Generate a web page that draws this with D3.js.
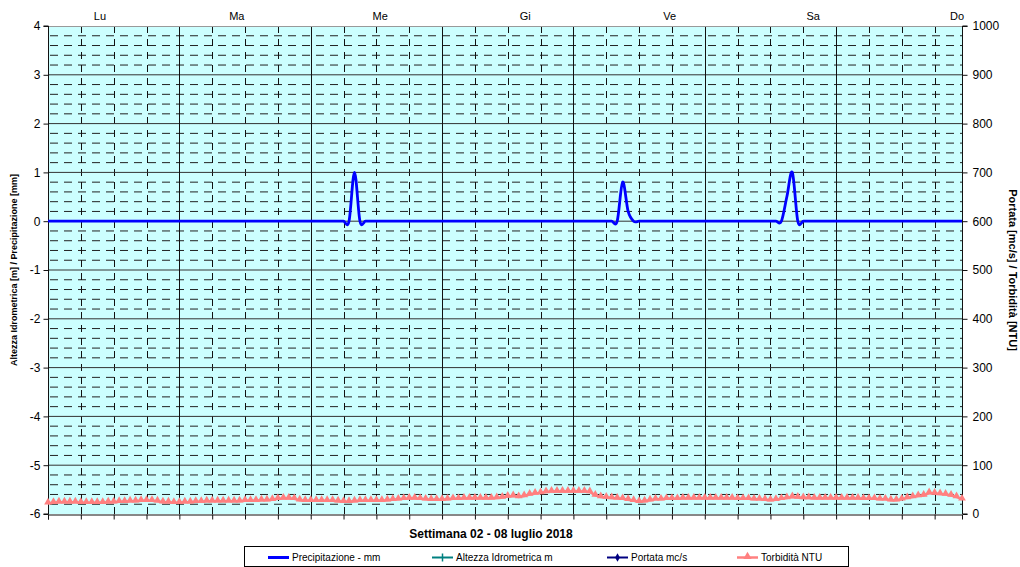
<!DOCTYPE html>
<html><head><meta charset="utf-8">
<script src="https://cdn.jsdelivr.net/npm/d3@7"></script>
<style>body{margin:0;background:#fff}svg{display:block;font-family:"Liberation Sans",Arial,sans-serif}</style>
</head><body><svg id="c" width="1020" height="567"></svg>
<script>
// ---- data ----
const dayLabels = ["Lu","Ma","Me","Gi","Ve","Sa","Do"];
const dayLabelHours = [9.5, 34.5, 60.7, 87.2, 113.6, 139.8, 166.1];
const leftTicks = [4,3,2,1,0,-1,-2,-3,-4,-5,-6];
const rightTicks = [1000,900,800,700,600,500,400,300,200,100,0];
const xTitle = "Settimana 02 - 08 luglio 2018";
const leftTitle = "Altezza Idrometrica [m] / Precipitazione [mm]";
const rightTitle = "Portata [mc/s] / Torbidità [NTU]";
// hourly precipitation (mm), Mon 00:00 .. Sun 23:00
const precipitation = [
 0,0,0,0,0,0,0,0,0,0,0,0,0,0,0,0,0,0,0,0,0,0,0,0,
 0,0,0,0,0,0,0,0,0,0,0,0,0,0,0,0,0,0,0,0,0,0,0,0,
 0,0,0,0,0,0,0,0,1.0,0,0,0,0,0,0,0,0,0,0,0,0,0,0,0,
 0,0,0,0,0,0,0,0,0,0,0,0,0,0,0,0,0,0,0,0,0,0,0,0,
 0,0,0,0,0,0,0,0,0,0.8,0.2,0,0,0,0,0,0,0,0,0,0,0,0,0,
 0,0,0,0,0,0,0,0,0,0,0,0,0,0,0,0.5,1.0,0,0,0,0,0,0,0,
 0,0,0,0,0,0,0,0,0,0,0,0,0,0,0,0,0,0,0,0,0,0,0,0
];
// hourly turbidity (NTU)
const turbidity = [
 22,23,24,24,24,24,23,23,23,23,23,24,
 24,25,25,26,26,27,27,27,26,24,24,23,
 23,24,24,25,25,26,26,26,26,26,26,26,
 27,27,27,28,28,29,31,32,32,31,28,27,
 27,27,27,27,27,26,25,25,26,27,27,27,
 27,27,28,29,30,31,32,32,31,30,29,29,
 29,30,31,31,32,32,32,32,32,32,33,34,
 36,37,35,37,40,42,43,45,46,46,46,46,
 46,46,46,45,38,35,34,33,32,31,29,27,
 25,26,28,30,30,31,31,31,32,32,32,32,
 32,32,32,32,32,32,31,31,31,30,30,29,
 28,29,31,33,35,34,33,33,32,32,32,32,
 32,32,32,32,32,31,31,31,30,30,28,28,
 30,33,35,37,38,43,42,41,40,38,35,30
];
const legendNames = ["Precipitazione - mm","Altezza Idrometrica m","Portata mc/s","Torbidità NTU"];
const legendColors = ["#0000FF","#008080","#000080","#FF8080"];

// ---- drawing ----
const svg = d3.select("#c");
const L = 48, R = 962, T = 26, B = 514;
const x = d3.scaleLinear().domain([0, 167]).range([L, R]);
const yL = d3.scaleLinear().domain([-6, 4]).range([B, T]);
const yR = d3.scaleLinear().domain([0, 1000]).range([B, T]);

svg.append("rect").attr("x", L).attr("y", T).attr("width", R - L).attr("height", B - T).attr("fill", "#CCFFFF");

const g = svg.append("g");
// minor horizontal dashed
const minorY = d3.range(-30, 20).map(i => i / 5).filter(v => Math.abs(v - Math.round(v)) > 1e-6);
g.selectAll(".mh").data(minorY).join("line")
  .attr("x1", L).attr("x2", R).attr("y1", d => yL(d)).attr("y2", d => yL(d))
  .attr("stroke", "#222").attr("stroke-width", 1).attr("stroke-dasharray", "8,6").attr("stroke-dashoffset", -2);
// minor vertical dashed (every 6 hours)
const minorX = d3.range(6, 167, 6).filter(h => h % 24 !== 0);
g.selectAll(".mv").data(minorX).join("line")
  .attr("x1", d => Math.round(x(d)) + 0.5).attr("x2", d => Math.round(x(d)) + 0.5).attr("y1", T).attr("y2", B)
  .attr("stroke", "#111").attr("stroke-width", 1).attr("stroke-dasharray", "7,6");
// major horizontal
g.selectAll(".MH").data(leftTicks.filter(v => v > -6 && v < 4)).join("line")
  .attr("x1", L).attr("x2", R).attr("y1", d => yL(d)).attr("y2", d => yL(d))
  .attr("stroke", "#333").attr("stroke-width", 1);
// major vertical (days)
g.selectAll(".MV").data(d3.range(24, 167, 24)).join("line")
  .attr("x1", d => Math.round(x(d)) + 0.5).attr("x2", d => Math.round(x(d)) + 0.5).attr("y1", T).attr("y2", B)
  .attr("stroke", "#111").attr("stroke-width", 1);
// top border
svg.append("line").attr("x1", L).attr("x2", R).attr("y1", T + 0.5).attr("y2", T + 0.5).attr("stroke", "#999");

// axes
const fmt = d => String(d);
const leftAxis = d3.axisLeft(yL).tickValues(leftTicks).tickSize(5).tickFormat(fmt);
const ga = svg.append("g").attr("transform", `translate(${L + 0.5},0)`).call(leftAxis);
const rightAxis = d3.axisRight(yR).tickValues(rightTicks).tickSize(5).tickFormat(fmt);
const gr = svg.append("g").attr("transform", `translate(${R + 0.5},0)`).call(rightAxis);
const bottomAxis = d3.axisBottom(x).tickValues(d3.range(0, 167, 6)).tickSize(5).tickFormat("");
const gb = svg.append("g").attr("transform", `translate(0,${B + 0.5})`).call(bottomAxis);
[ga, gr, gb].forEach(a => {
  a.select(".domain").attr("stroke", "#111");
  a.selectAll(".tick line").attr("stroke", "#111");
  a.selectAll("text").attr("fill", "#000").style("font-size", "12px").style("font-family", "'Liberation Sans',Arial,sans-serif");
});
ga.selectAll(".tick text").attr("x", -8);
gr.selectAll(".tick text").attr("x", 10);
ga.select(".domain").attr("d", `M-5,${T}H0V${B}H-5`);
gr.select(".domain").attr("d", `M5,${T}H0V${B}H5`);

// day labels on top
svg.append("g").selectAll("text").data(dayLabels).join("text")
  .attr("x", (d, i) => x(dayLabelHours[i])).attr("y", 20)
  .attr("text-anchor", "middle").style("font-size", "11px").text(d => d);

// series: turbidity
const tLine = d3.line().x((d, i) => x(i)).y(d => yR(d));
svg.append("path").datum(turbidity).attr("d", tLine).attr("fill", "none")
  .attr("stroke", "#FF8080").attr("stroke-width", 2.5);
svg.append("g").selectAll("path").data(turbidity).join("path")
  .attr("transform", (d, i) => `translate(${x(i)},${yR(d) - 1})`)
  .attr("d", d3.symbol(d3.symbolTriangle).size(26)).attr("fill", "#FF8080");

// series: precipitation
const pLine = d3.line().x((d, i) => x(i)).y(d => yL(d)).curve(d3.curveCardinal);
svg.append("path").datum(precipitation).attr("d", pLine).attr("fill", "none")
  .attr("stroke", "#0000FF").attr("stroke-width", 2.8);

// titles
svg.append("text").attr("x", 491).attr("y", 538).attr("text-anchor", "middle")
  .style("font-size", "12px").style("font-weight", "bold").text(xTitle);
svg.append("text").attr("transform", `translate(17,${(T + B) / 2}) rotate(-90)`).attr("text-anchor", "middle")
  .style("font-size", "9px").style("font-weight", "bold").text(leftTitle);
svg.append("text").attr("transform", `translate(1009,${(T + B) / 2}) rotate(90)`).attr("text-anchor", "middle")
  .style("font-size", "11px").style("font-weight", "bold").text(rightTitle);

// legend
const lg = svg.append("g");
lg.append("rect").attr("x", 244.5).attr("y", 546.5).attr("width", 604).attr("height", 20)
  .attr("fill", "#fff").attr("stroke", "#000");
const legendX = [268, 432, 607, 737];
const ly = 557.5;
legendNames.forEach((name, i) => {
  const x0 = legendX[i];
  lg.append("line").attr("x1", x0).attr("x2", x0 + 21).attr("y1", ly).attr("y2", ly)
    .attr("stroke", legendColors[i]).attr("stroke-width", i === 0 ? 3 : (i === 3 ? 2.5 : 2));
  if (i === 1) lg.append("line").attr("x1", x0 + 10.5).attr("x2", x0 + 10.5).attr("y1", ly - 4).attr("y2", ly + 4).attr("stroke", legendColors[i]).attr("stroke-width", 1.5);
  if (i === 2) lg.append("path").attr("transform", `translate(${x0 + 10.5},${ly})`).attr("d", d3.symbol(d3.symbolDiamond).size(20)).attr("fill", legendColors[i]);
  if (i === 3) lg.append("path").attr("transform", `translate(${x0 + 10.5},${ly - 1})`).attr("d", d3.symbol(d3.symbolTriangle).size(30)).attr("fill", legendColors[i]);
  lg.append("text").attr("x", x0 + 24).attr("y", ly + 3.5).style("font-size", "10px").text(name);
});
</script></body></html>
